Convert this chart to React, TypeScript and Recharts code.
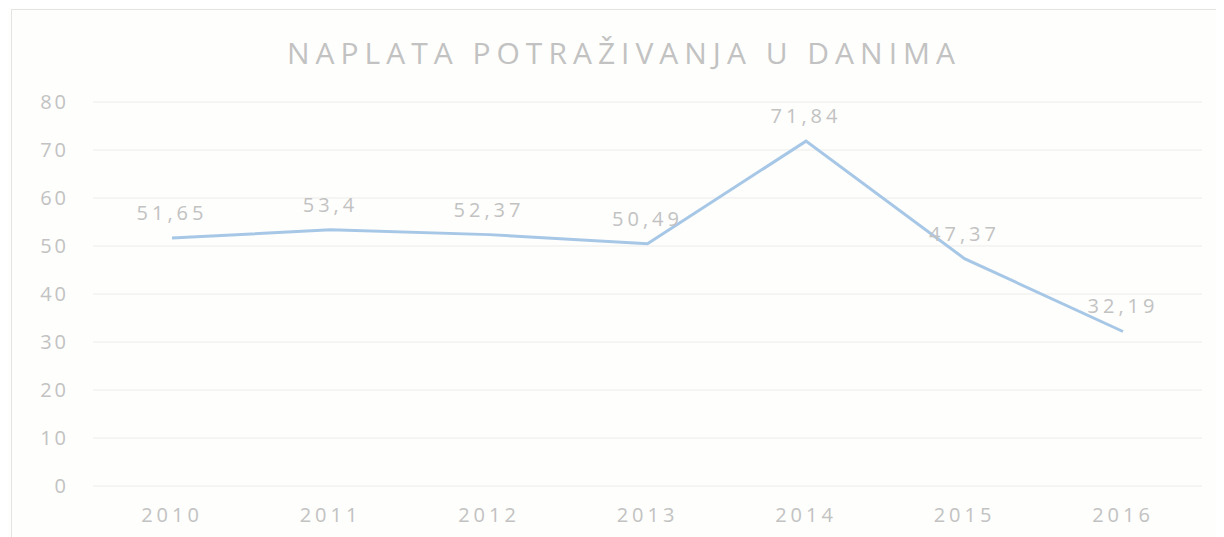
import React from 'react';
import { LineChart, Line, XAxis, YAxis, CartesianGrid, LabelList } from 'recharts';

const years = ['2010', '2011', '2012', '2013', '2014', '2015', '2016'];
const days = [51.65, 53.4, 52.37, 50.49, 71.84, 47.37, 32.19];
const yTicks = [0, 10, 20, 30, 40, 50, 60, 70, 80];

const data = years.map((year, i) => ({ year, days: days[i] }));

const TEXT = '#c2c2c2';
const FONT = '"Open Sans", "Liberation Sans", sans-serif';

const fmt = (v: any) => String(v).replace('.', ',');

const App: React.FC = () => {
  return (
    <div style={{ position: 'relative', width: 1216, height: 529, background: '#fefefc', overflow: 'hidden', fontFamily: FONT }}>
      {/* chart frame */}
      <div style={{ position: 'absolute', left: 3, top: 1, width: 1230, height: 540, border: '1px solid #e4e4e4' }} />

      <div
        style={{
          position: 'absolute',
          top: 24,
          left: 0,
          width: 1232,
          textAlign: 'center',
          fontSize: 30,
          letterSpacing: 6,
          color: TEXT,
        }}
      >
        NAPLATA POTRAŽIVANJA U DANIMA
      </div>

      <LineChart width={1216} height={529} data={data} margin={{ top: 94, right: 22, bottom: 0, left: 0 }}>
        <CartesianGrid vertical={false} stroke="#ececec" strokeWidth={1} />
        <XAxis
          dataKey="year"
          axisLine={false}
          tickLine={false}
          height={51}
          tickMargin={16}
          padding={{ left: 79, right: 79 }}
          tick={{ fill: TEXT, fontSize: 20, letterSpacing: 4, fontFamily: FONT }}
        />
        <YAxis
          domain={[0, 80]}
          ticks={yTicks}
          width={85}
          axisLine={false}
          tickLine={false}
          tickMargin={18}
          tick={{ fill: TEXT, fontSize: 20, letterSpacing: 3, fontFamily: FONT }}
        />
        <Line
          type="linear"
          dataKey="days"
          stroke="#a7c7e7"
          strokeWidth={3}
          dot={false}
          isAnimationActive={false}
        >
          <LabelList
            dataKey="days"
            position="top"
            offset={18}
            formatter={fmt}
            style={{ fill: TEXT, fontSize: 20, letterSpacing: 4, fontFamily: FONT }}
          />
        </Line>
      </LineChart>
    </div>
  );
};

export default App;
